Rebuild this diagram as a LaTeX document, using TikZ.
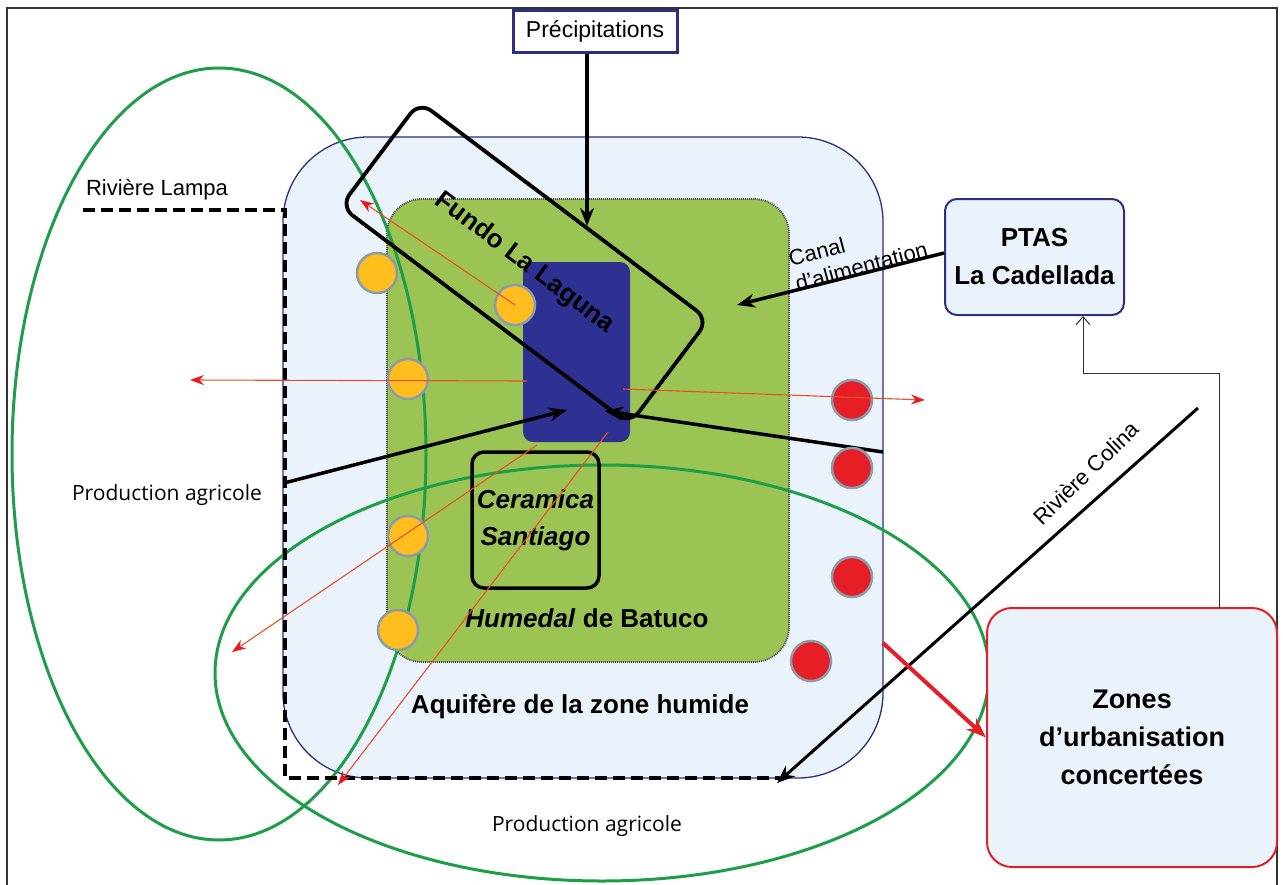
\documentclass[tikz,border=0pt]{standalone}
\usepackage{fontspec}
\setmainfont{Liberation Sans}
\newfontfamily\osans{Open Sans}
\usetikzlibrary{arrows.meta,shapes.geometric}
\definecolor{navy}{RGB}{43,47,130}
\definecolor{aqfill}{RGB}{234,243,251}
\definecolor{wetgreen}{RGB}{155,196,85}
\definecolor{lagoon}{RGB}{46,49,146}
\definecolor{ellgreen}{RGB}{30,158,72}
\definecolor{yel}{RGB}{255,190,30}
\definecolor{redc}{RGB}{230,30,37}
\definecolor{rim}{RGB}{140,155,170}
\definecolor{thinred}{RGB}{232,80,40}
\definecolor{headred}{RGB}{235,25,30}
\definecolor{urbred}{RGB}{228,30,40}
\begin{document}
\begin{tikzpicture}[x=1pt,y=-1pt,
  aqbox/.style={draw=navy, fill=aqfill, line width=1.3pt, rounded corners=85pt},
  wetbox/.style={draw=black!70, fill=wetgreen, line width=1.8pt, dash pattern=on 1pt off 1pt, rounded corners=35pt},
  blackbox/.style={draw=black, line width=3.5pt, rounded corners=12pt},
  bluebox/.style={draw=navy, fill=aqfill, line width=2pt, rounded corners=12pt},
  redbox/.style={draw=urbred, fill=aqfill, line width=2pt, rounded corners=25pt},
  zone/.style={ellipse, draw=ellgreen, line width=3pt, inner sep=0pt},
  yeldot/.style={circle, fill=yel, draw=rim, line width=2.5pt, minimum size=40pt, inner sep=0pt},
  reddot/.style={circle, fill=redc, draw=rim, line width=2.5pt, minimum size=40pt, inner sep=0pt},
  bigarrow/.style={draw=black, line width=3.5pt, -{Stealth[length=18pt,width=14pt]}},
  flow/.style={draw=thinred, line width=1.1pt, -{Stealth[length=14pt,width=10pt,color=headred]}},
  urbarrow/.style={draw=urbred, line width=4pt, -{Stealth[length=20pt,width=15pt]}},
  river/.style={draw=black, line width=3.5pt, dash pattern=on 12pt off 6pt},
  link/.style={draw=black!80, line width=1pt, -{Straight Barb[length=8pt,width=14pt]}},
  lbl/.style={font=\fontsize{22}{26}\selectfont},
  agri/.style={font=\osans\fontsize{21}{25}\selectfont},
  title/.style={font=\bfseries\fontsize{26}{30}\selectfont}
]
\useasboundingbox (0,0) rectangle (1283,884);
\clip (0,0) rectangle (1283,884);
\fill[white] (0,0) rectangle (1283,884);
\draw[line width=1.2pt, black!80] (7,8) rectangle (1277,900);

% aquifer and wetland
\node[aqbox, minimum width=600pt, minimum height=641pt] (aq) at (583,457.5) {};
\node[wetbox, minimum width=402pt, minimum height=463pt] (wet) at (588,430.5) {};
\node[fill=lagoon, rounded corners=10pt, minimum width=107pt, minimum height=180pt] (lag) at (576.5,352) {};

% agricultural zones
\node[zone, minimum width=414pt, minimum height=772pt] (ellL) at (219,454) {};
\node[zone, minimum width=774pt, minimum height=416pt] (ellB) at (602,673) {};

% boxes
\node[blackbox, minimum width=127pt, minimum height=136pt, align=center,
      font=\bfseries\itshape\fontsize{26}{37}\selectfont] (cer) at (535.5,520) {Ceramica\\Santiago};
\node[blackbox, line width=3.8pt, rounded corners=15pt, rotate=-37, minimum width=362pt, minimum height=131pt,
      font=\bfseries\fontsize{26}{30}\selectfont] (fundo) at (524.5,263) {Fundo La Laguna};
\node[title] (hum) at (587,618) {\textit{Humedal} de Batuco};
\node[title] (aql) at (580,707) {Aquifère de la zone humide};

\node[bluebox, minimum width=179pt, minimum height=116pt, align=center,
      font=\bfseries\fontsize{26}{38}\selectfont] (ptas) at (1034.5,257) {PTAS\\La Cadellada};
\node[redbox, minimum width=290pt, minimum height=259pt, align=center,
      font=\bfseries\fontsize{27}{38}\selectfont] (zones) at (1132,737.5) {Zones\\d’urbanisation\\concertées};
\node[draw=navy, line width=3pt, fill=white, minimum width=164pt, minimum height=42pt,
      font=\fontsize{23}{26}\selectfont] (precip) at (595,31) {Précipitations};

% labels
\node[lbl] (lampa) at (157,190) {Rivière Lampa};
\node[agri] (pa1) at (167,495) {Production agricole};
\node[agri] (pa2) at (587,826) {Production agricole};
\node[lbl, rotate=44, inner sep=1pt] (colinalab) at (1086,473) {Rivière Colina};
\node[lbl, rotate=15, align=left] (canallab) at (858,254) {Canal\\d’alimentation};

% coordinates
\coordinate (pin) at (587,226);
\coordinate (canaltip) at (737,305);
\coordinate (lw) at (284,483);
\coordinate (lwtip) at (567,410);
\coordinate (le) at (883,452);
\coordinate (letip) at (605,411);
\coordinate (colS) at (1198,408);
\coordinate (colE) at (777,783);
\coordinate (urbS) at (883,643);
\coordinate (lampaS) at (83,210);
\coordinate (lampa1) at (285,210);
\coordinate (lampa2) at (285,778);
\coordinate (lampa3) at (780,778);
\coordinate (zonesT) at (1219,608);
\coordinate (bend) at (1083,373);
\coordinate (ptasB) at (1083,316);

% rivers and flows
\draw[river] (lampaS) -- (lampa1) -- (lampa2) -- (lampa3);
\draw[bigarrow] ([xshift=-8pt]precip.south) -- (pin);
\draw[bigarrow] ([yshift=4pt]ptas.west) -- (canaltip);
\draw[bigarrow] (lw) -- (lwtip);
\draw[bigarrow] (le) -- (letip);
\draw[bigarrow, line width=3pt] (colS) -- (colE);
\draw[urbarrow] (urbS) -- (zones.west);
\draw[link] (zonesT) |- (bend) -- (ptasB);

% wells
\node[yeldot] (y1) at (377,273) {};
\node[yeldot] (y2) at (515,305) {};
\node[yeldot] (y3) at (408,379) {};
\node[yeldot] (y4) at (408,536) {};
\node[yeldot] (y5) at (398,630) {};
\node[reddot] (r1) at (852,400) {};
\node[reddot] (r2) at (852,468) {};
\node[reddot] (r3) at (852,577) {};
\node[reddot] (r4) at (811,661) {};

% thin flows
\coordinate (f1) at (360,200);
\coordinate (s2) at (527,381);
\coordinate (f2) at (190,380);
\coordinate (s3) at (623,389);
\coordinate (f3) at (925,400);
\coordinate (s4) at (537,445);
\coordinate (f4) at (232,652);
\coordinate (s5) at (608,432);
\coordinate (f5) at (338,785);
\draw[flow] (y2.center) -- (f1);
\draw[flow] (s2) -- (f2);
\draw[flow] (s3) -- (f3);
\draw[flow] (s4) -- (f4);
\draw[flow] (s5) -- (f5);
\end{tikzpicture}
\end{document}
